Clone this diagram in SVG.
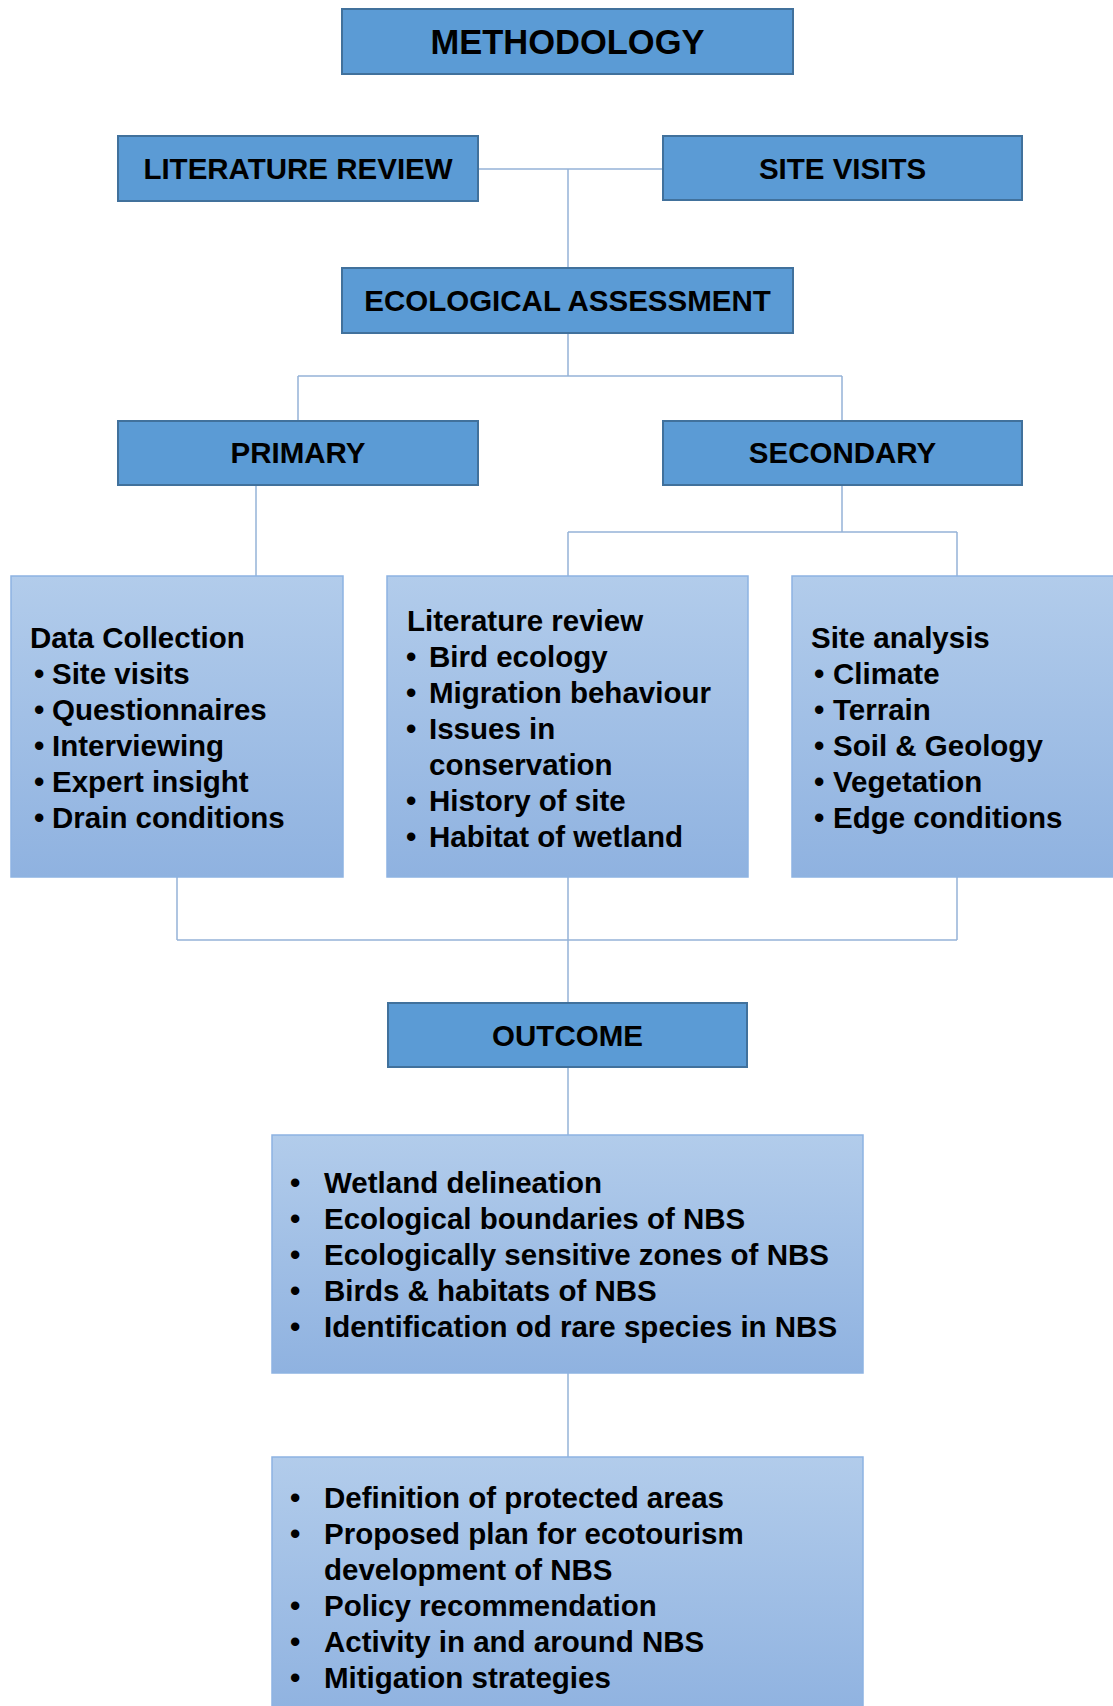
<svg xmlns="http://www.w3.org/2000/svg" width="1113" height="1706" viewBox="0 0 1113 1706">
<defs>
<linearGradient id="g" x1="0" y1="0" x2="0" y2="1">
<stop offset="0" stop-color="#B2CCEB"/>
<stop offset="1" stop-color="#8FB2E0"/>
</linearGradient>
<style>
.hd{fill:#5B9BD5;stroke:#41719C;stroke-width:2}
.bx{fill:url(#g);stroke:#8DB3E2;stroke-width:1.5}
.t{font-family:"Liberation Sans",Arial,sans-serif;font-weight:bold;font-size:29.5px;fill:#000}
.tc{text-anchor:middle}
.c{fill:none;stroke:#95B3D7;stroke-width:1.5}
</style>
</defs>
<rect width="1113" height="1706" fill="#fff"/>
<g id="connectors">
<path class="c" d="M478,169H663M568,169V268"/>
<path class="c" d="M568,333V376M298,376H842M298,376V421M842,376V421"/>
<path class="c" d="M256,485V576"/>
<path class="c" d="M842,485V532M568,532H957M568,532V576M957,532V576"/>
<path class="c" d="M177,877V940M568,877V1003M957,877V940M177,940H957"/>
<path class="c" d="M568,1067V1135"/>
<path class="c" d="M568,1373V1457"/>
</g>
<g id="methodology"><rect class="hd" x="342" y="9" width="451" height="65"/><text class="t tc" x="567.5" y="54" style="font-size:34.5px">METHODOLOGY</text></g>
<g id="literature-review"><rect class="hd" x="118" y="136" width="360" height="65"/><text class="t tc" x="298" y="179">LITERATURE REVIEW</text></g>
<g id="site-visits"><rect class="hd" x="663" y="136" width="359" height="64"/><text class="t tc" x="842.5" y="179">SITE VISITS</text></g>
<g id="ecological-assessment"><rect class="hd" x="342" y="268" width="451" height="65"/><text class="t tc" x="567.5" y="311">ECOLOGICAL ASSESSMENT</text></g>
<g id="primary"><rect class="hd" x="118" y="421" width="360" height="64"/><text class="t tc" x="298" y="463">PRIMARY</text></g>
<g id="secondary"><rect class="hd" x="663" y="421" width="359" height="64"/><text class="t tc" x="842.5" y="463">SECONDARY</text></g>
<g id="data-collection"><rect class="bx" x="11" y="576" width="332" height="301"/>
<text class="t" x="30" y="648">Data Collection</text>
<text class="t" x="34" y="684">•</text><text class="t" x="52" y="684">Site visits</text>
<text class="t" x="34" y="720">•</text><text class="t" x="52" y="720">Questionnaires</text>
<text class="t" x="34" y="756">•</text><text class="t" x="52" y="756">Interviewing</text>
<text class="t" x="34" y="792">•</text><text class="t" x="52" y="792">Expert insight</text>
<text class="t" x="34" y="828">•</text><text class="t" x="52" y="828">Drain conditions</text>
</g>
<g id="literature-review-detail"><rect class="bx" x="387" y="576" width="361" height="301"/>
<text class="t" x="407" y="631">Literature review</text>
<text class="t" x="406" y="667">•</text><text class="t" x="429" y="667">Bird ecology</text>
<text class="t" x="406" y="703">•</text><text class="t" x="429" y="703">Migration behaviour</text>
<text class="t" x="406" y="739">•</text><text class="t" x="429" y="739">Issues in</text>
<text class="t" x="429" y="775">conservation</text>
<text class="t" x="406" y="811">•</text><text class="t" x="429" y="811">History of site</text>
<text class="t" x="406" y="847">•</text><text class="t" x="429" y="847">Habitat of wetland</text>
</g>
<g id="site-analysis"><rect class="bx" x="792" y="576" width="330" height="301"/>
<text class="t" x="811" y="648">Site analysis</text>
<text class="t" x="814" y="684">•</text><text class="t" x="833" y="684">Climate</text>
<text class="t" x="814" y="720">•</text><text class="t" x="833" y="720">Terrain</text>
<text class="t" x="814" y="756">•</text><text class="t" x="833" y="756">Soil &amp; Geology</text>
<text class="t" x="814" y="792">•</text><text class="t" x="833" y="792">Vegetation</text>
<text class="t" x="814" y="828">•</text><text class="t" x="833" y="828">Edge conditions</text>
</g>
<g id="outcome"><rect class="hd" x="388" y="1003" width="359" height="64"/><text class="t tc" x="567.5" y="1046">OUTCOME</text></g>
<g id="outcome-list"><rect class="bx" x="272" y="1135" width="591" height="238"/>
<text class="t" x="290" y="1193">•</text><text class="t" x="324" y="1193">Wetland delineation</text>
<text class="t" x="290" y="1229">•</text><text class="t" x="324" y="1229">Ecological boundaries of NBS</text>
<text class="t" x="290" y="1265">•</text><text class="t" x="324" y="1265">Ecologically sensitive zones of NBS</text>
<text class="t" x="290" y="1301">•</text><text class="t" x="324" y="1301">Birds &amp; habitats of NBS</text>
<text class="t" x="290" y="1337">•</text><text class="t" x="324" y="1337">Identification od rare species in NBS</text>
</g>
<g id="recommendations"><rect class="bx" x="272" y="1457" width="591" height="260"/>
<text class="t" x="290" y="1508">•</text><text class="t" x="324" y="1508">Definition of protected areas</text>
<text class="t" x="290" y="1544">•</text><text class="t" x="324" y="1544">Proposed plan for ecotourism</text>
<text class="t" x="324" y="1580">development of NBS</text>
<text class="t" x="290" y="1616">•</text><text class="t" x="324" y="1616">Policy recommendation</text>
<text class="t" x="290" y="1652">•</text><text class="t" x="324" y="1652">Activity in and around NBS</text>
<text class="t" x="290" y="1688">•</text><text class="t" x="324" y="1688">Mitigation strategies</text>
</g>
</svg>
